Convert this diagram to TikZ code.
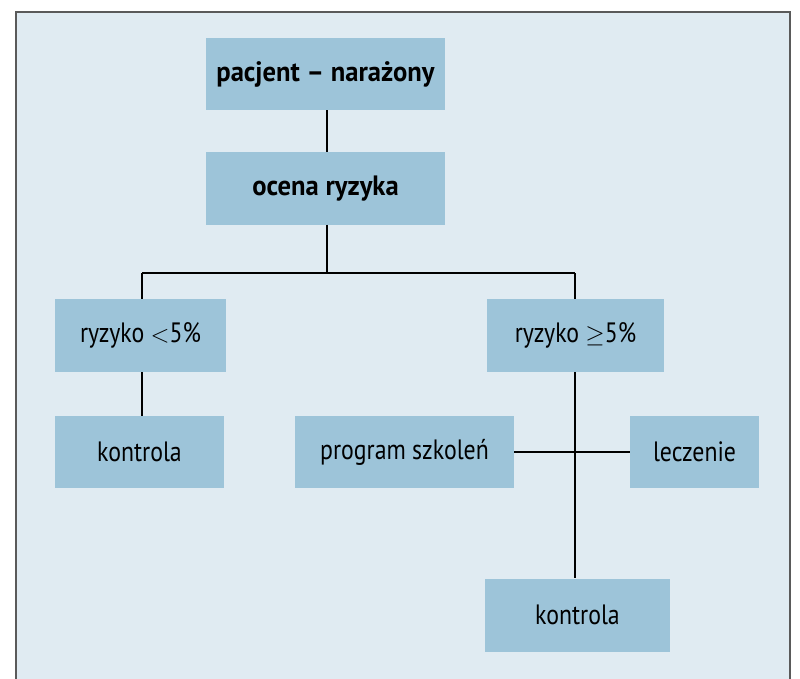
\documentclass[tikz,border=0pt]{standalone}
\usepackage{fontspec}
\setmainfont{PT Sans}[FakeStretch=0.85,BoldFeatures={FakeStretch=0.95}]
\definecolor{bgc}{HTML}{E0EBF2}
\definecolor{boxc}{HTML}{9DC4D9}
\definecolor{framec}{HTML}{5A5A5A}
\begin{document}
\begin{tikzpicture}[x=1pt,y=-1pt,
  box/.style={fill=boxc,draw=none,inner sep=0pt,minimum height=72pt,font=\fontsize{28}{32}\selectfont},
  bbox/.style={box,font=\fontsize{28}{32}\selectfont\bfseries},
  conn/.style={line width=2.8pt,black}]
\useasboundingbox (0,0) rectangle (800,679);
\fill[white] (0,0) rectangle (800,679);
\fill[bgc] (16,12) rectangle (790,690);
\draw[framec,line width=1.2pt] (16,690) -- (16,12) -- (790,12) -- (790,690);
\node[bbox,minimum width=239pt] (p) at (325.5,74) {pacjent – narażony};
\node[bbox,minimum width=239pt] (o) at (325.5,188.5) {ocena ryzyka};
\node[box,minimum width=171pt,minimum height=73pt] (r1) at (140.5,335.5) {ryzyko $<$5\%};
\node[box,minimum width=177pt,minimum height=73pt] (r2) at (575.5,335.5) {ryzyko $\geq$5\%};
\node[box,minimum width=169pt] (k1) at (139.5,452) {kontrola};
\node[box,minimum width=219pt] (ps) at (404.5,452) {program szkoleń};
\node[box,minimum width=129pt] (l) at (694.5,452) {leczenie};
\node[box,minimum width=185pt,minimum height=73pt] (k2) at (577.5,615) {kontrola};
\coordinate (j) at (327,273);
\coordinate (jl) at (142,273);
\coordinate (jr) at (575,273);
\draw[conn] (p.south -| j) -- (o.north -| j);
\draw[conn] (o.south -| j) -- (j);
\draw[conn] (jl) -- (jr);
\draw[conn] (jl) -- (r1.north -| jl);
\draw[conn] (jr) -- (r2.north -| jr);
\draw[conn] (r1.south -| jl) -- (k1.north -| jl);
\draw[conn] (r2.south -| jr) -- (k2.north -| jr);
\draw[conn] (ps.east) -- (l.west);
\end{tikzpicture}
\end{document}
